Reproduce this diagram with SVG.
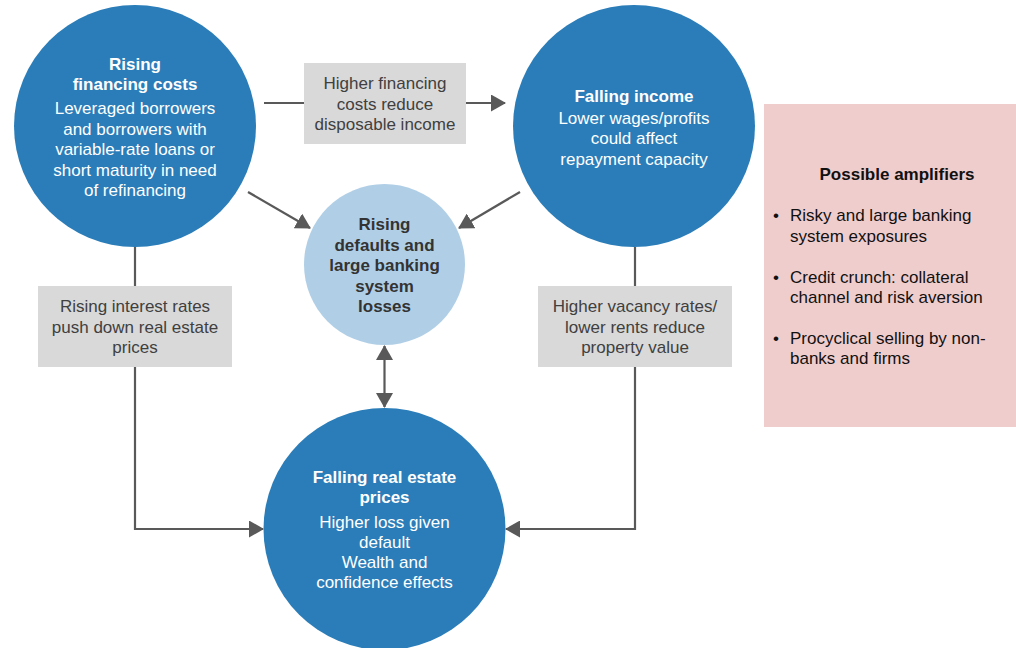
<svg xmlns="http://www.w3.org/2000/svg" width="1016" height="648" viewBox="0 0 1016 648">
<style>
text{font-family:"Liberation Sans",Arial,sans-serif;font-size:17px;}
.c{text-anchor:middle;}
.b{font-weight:bold;}
.w{fill:#ffffff;}
.g{fill:#404040;}
.d{fill:#333333;}
.k{fill:#111111;}
.blue{fill:#2a7db8;}
.light{fill:#b0cfe6;}
.box{fill:#d9d9d9;}
.con{fill:none;stroke:#595959;stroke-width:2.2;}
</style>
<defs>
<marker id="ah" viewBox="0 0 15 17" refX="14" refY="8.5" markerWidth="15" markerHeight="17" markerUnits="userSpaceOnUse" orient="auto-start-reverse">
<path d="M0,0 L15,8.5 L0,17 z" fill="#595959"/>
</marker>
</defs>
<rect width="1016" height="648" fill="#ffffff"/>
<g id="connectors">
<line class="con" x1="264" y1="103" x2="505" y2="103" marker-end="url(#ah)"/>
<line class="con" x1="248" y1="192" x2="310" y2="228" marker-end="url(#ah)"/>
<line class="con" x1="520" y1="192" x2="459" y2="228" marker-end="url(#ah)"/>
<polyline class="con" points="135,247 135,529 263,529" marker-end="url(#ah)"/>
<polyline class="con" points="635,247 635,529 506,529" marker-end="url(#ah)"/>
<line class="con" x1="384.5" y1="346" x2="384.5" y2="407" marker-start="url(#ah)" marker-end="url(#ah)"/>
</g>
<g id="node-rising-costs">
<circle class="blue" cx="135" cy="126" r="121"/>
<text class="c b w" x="135" y="70">Rising</text>
<text class="c b w" x="135" y="90">financing costs</text>
<text class="c w" x="135" y="114">Leveraged borrowers</text>
<text class="c w" x="135" y="134.5">and borrowers with</text>
<text class="c w" x="135" y="155">variable-rate loans or</text>
<text class="c w" x="135" y="175.5">short maturity in need</text>
<text class="c w" x="135" y="196">of refinancing</text>
</g>
<g id="label-disposable">
<rect class="box" x="304" y="63" width="162" height="81"/>
<text class="c g" x="385" y="89">Higher financing</text>
<text class="c g" x="385" y="110">costs reduce</text>
<text class="c g" x="385" y="130">disposable income</text>
</g>
<g id="node-falling-income">
<circle class="blue" cx="634" cy="126" r="121"/>
<text class="c b w" x="634" y="102">Falling income</text>
<text class="c w" x="634" y="124">Lower wages/profits</text>
<text class="c w" x="634" y="144">could affect</text>
<text class="c w" x="634" y="165">repayment capacity</text>
</g>
<g id="node-defaults">
<circle class="light" cx="384.5" cy="264.5" r="80.5"/>
<text class="c b d" x="384.5" y="230">Rising</text>
<text class="c b d" x="384.5" y="250.5">defaults and</text>
<text class="c b d" x="384.5" y="271">large banking</text>
<text class="c b d" x="384.5" y="291.5">system</text>
<text class="c b d" x="384.5" y="312">losses</text>
</g>
<g id="label-interest">
<rect class="box" x="38" y="286" width="194" height="81"/>
<text class="c g" x="135" y="312">Rising interest rates</text>
<text class="c g" x="135" y="333">push down real estate</text>
<text class="c g" x="135" y="353">prices</text>
</g>
<g id="label-vacancy">
<rect class="box" x="538" y="286" width="194" height="81"/>
<text class="c g" x="635" y="312">Higher vacancy rates/</text>
<text class="c g" x="635" y="333">lower rents reduce</text>
<text class="c g" x="635" y="353">property value</text>
</g>
<g id="node-real-estate">
<circle class="blue" cx="384.5" cy="529" r="121"/>
<text class="c b w" x="384.5" y="483">Falling real estate</text>
<text class="c b w" x="384.5" y="503">prices</text>
<text class="c w" x="384.5" y="528">Higher loss given</text>
<text class="c w" x="384.5" y="548">default</text>
<text class="c w" x="384.5" y="568">Wealth and</text>
<text class="c w" x="384.5" y="588">confidence effects</text>
</g>
<g id="amplifiers">
<rect x="764" y="104" width="252" height="323" fill="#f0cdcd"/>
<text class="c b k" x="897" y="180">Possible amplifiers</text>
<text class="k" x="773" y="221">•</text>
<text class="k" x="790" y="221">Risky and large banking</text>
<text class="k" x="790" y="242">system exposures</text>
<text class="k" x="773" y="283">•</text>
<text class="k" x="790" y="283">Credit crunch: collateral</text>
<text class="k" x="790" y="303">channel and risk aversion</text>
<text class="k" x="773" y="344">•</text>
<text class="k" x="790" y="344">Procyclical selling by non-</text>
<text class="k" x="790" y="364">banks and firms</text>
</g>
</svg>
